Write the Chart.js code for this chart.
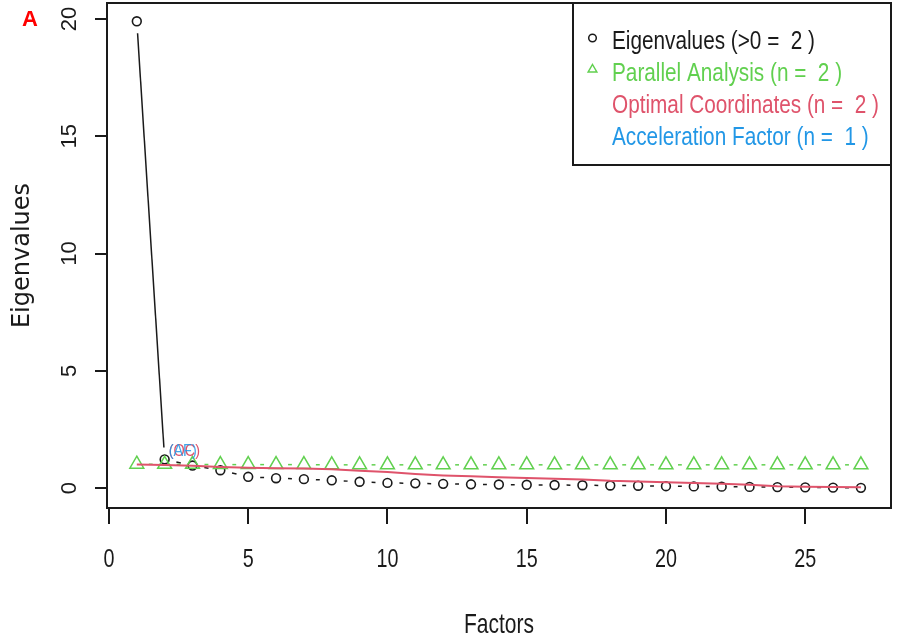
<!DOCTYPE html>
<html>
<head>
<meta charset="utf-8">
<script src="https://cdn.jsdelivr.net/npm/chart.js@4.4.1/dist/chart.umd.min.js"></script>
<style>
  html, body { margin: 0; padding: 0; background: #ffffff; }
  canvas { display: block; }
</style>
</head>
<body>
<canvas id="c" width="900" height="635"></canvas>
<script>
// ---- data ----
const factors = [1, 2, 3, 4, 5, 6, 7, 8, 9, 10, 11, 12, 13, 14, 15, 16, 17, 18, 19, 20, 21, 22, 23, 24, 25, 26, 27];
const eigenvalues = [19.9, 1.22, 0.96, 0.76, 0.48, 0.42, 0.38, 0.33, 0.27, 0.22, 0.2, 0.18, 0.16, 0.15, 0.14, 0.13, 0.12, 0.11, 0.1, 0.08, 0.07, 0.06, 0.05, 0.04, 0.03, 0.02, 0.01];
const parallelAnalysis = [1.02, 1.01, 1.01, 1.0, 1.0, 1.0, 1.0, 0.99, 0.99, 0.99, 0.99, 0.99, 0.99, 0.99, 0.99, 0.99, 0.99, 0.99, 0.99, 0.99, 0.99, 0.99, 0.99, 0.99, 0.99, 0.99, 0.99];
const optimalCoordinates = [1.0, 0.98, 0.95, 0.9, 0.87, 0.85, 0.83, 0.8, 0.74, 0.68, 0.6, 0.54, 0.5, 0.46, 0.43, 0.4, 0.37, 0.31, 0.28, 0.25, 0.22, 0.18, 0.14, 0.08, 0.06, 0.04, 0.03];
const xTickValues = [0, 5, 10, 15, 20, 25];
const yTickValues = [0, 5, 10, 15, 20];
const legendLabels = ['Eigenvalues (>0 =  2 )', 'Parallel Analysis (n =  2 )', 'Optimal Coordinates (n =  2 )', 'Acceleration Factor (n =  1 )'];
const ocLabel = '(OC)';
const afLabel = '(AF)';
const labelFactorIndex = 1;  // labels sit at factor 2
const panelLetter = 'A';
const xTitle = 'Factors';
const yTitle = 'Eigenvalues';

// ---- styling ----
const SANS = "'Liberation Sans', Arial, sans-serif";
const BLACK = '#1a1a1a';
const GREEN = '#61D04F';
const RED = '#DF536B';
const BLUE = '#2297E6';
const GAP = 12;

const toPoints = (ys) => factors.map((x, i) => ({ x: x, y: ys[i] }));

// R type="b": lines stop short of each point
function gapDash(ctx) {
  const dx = ctx.p1.x - ctx.p0.x, dy = ctx.p1.y - ctx.p0.y;
  const L = Math.hypot(dx, dy);
  const on = Math.max(L - 2 * GAP, 0);
  return [0, GAP, on, L + 1000 + ctx.p0DataIndex * 0.01];
}

// horizontally condensed text (reference uses a narrow face)
function narrowText(ctx, text, x, y, size, sx, color, align, weight) {
  ctx.save();
  ctx.translate(x, y);
  ctx.scale(sx, 1);
  ctx.font = (weight || 'normal') + ' ' + size + 'px ' + SANS;
  ctx.fillStyle = color;
  ctx.textAlign = align || 'left';
  ctx.textBaseline = 'alphabetic';
  ctx.fillText(text, 0, 0);
  ctx.restore();
}

const boxPlugin = {
  id: 'plotBox',
  beforeDatasetsDraw(chart) {
    const { ctx, chartArea: a } = chart;
    ctx.save();
    ctx.strokeStyle = BLACK;
    ctx.lineWidth = 2;
    ctx.strokeRect(a.left, a.top, a.right - a.left, a.bottom - a.top);
    ctx.restore();
  }
};

const annotPlugin = {
  id: 'annotations',
  afterDatasetsDraw(chart) {
    const { ctx } = chart;
    const xs = chart.scales.x, ys = chart.scales.y;
    const px = xs.getPixelForValue(factors[labelFactorIndex]);
    const py = ys.getPixelForValue(eigenvalues[labelFactorIndex]);
    narrowText(ctx, ocLabel, px + 4, py - 3, 17, 0.85, RED, 'left');
    ctx.save();
    ctx.globalAlpha = 0.85;
    narrowText(ctx, afLabel, px + 4, py - 3, 17, 0.85, BLUE, 'left');
    ctx.restore();
  },
  afterDraw(chart) {
    const { ctx, chartArea: a } = chart;
    const xs = chart.scales.x;
    // x tick labels and x title
    xs.ticks.forEach(t => {
      narrowText(ctx, String(t.value), xs.getPixelForValue(t.value), 567, 26, 0.76, BLACK, 'center');
    });
    narrowText(ctx, xTitle, (a.left + a.right) / 2, 633, 28, 0.75, BLACK, 'center');

    ctx.save();
    // legend box
    const bw = 318, bh = 162;
    const bx = a.right - bw, by = a.top;
    ctx.fillStyle = '#ffffff';
    ctx.fillRect(bx, by, bw, bh);
    ctx.strokeStyle = BLACK;
    ctx.lineWidth = 2;
    ctx.strokeRect(bx, by, bw, bh);
    ctx.restore();
    const baselines = [46, 78, 110, 142];
    const colors = [BLACK, GREEN, RED, BLUE];
    legendLabels.forEach((t, i) => {
      narrowText(ctx, t, bx + 39, by + baselines[i], 25, 0.83, colors[i], 'left');
    });
    // symbols
    ctx.save();
    const sx = bx + 19.5;
    ctx.lineWidth = 1.5;
    ctx.strokeStyle = BLACK;
    ctx.beginPath();
    ctx.arc(sx, by + 35, 3.8, 0, Math.PI * 2);
    ctx.stroke();
    ctx.strokeStyle = GREEN;
    const ty = by + 66.5, r = 5;
    ctx.beginPath();
    ctx.moveTo(sx, ty - r);
    ctx.lineTo(sx + r * 0.866, ty + r * 0.5);
    ctx.lineTo(sx - r * 0.866, ty + r * 0.5);
    ctx.closePath();
    ctx.stroke();
    ctx.restore();
    // panel letter
    narrowText(ctx, panelLetter, 30, 26, 22, 1, '#ff0000', 'center', 'bold');
  }
};

new Chart(document.getElementById('c'), {
  type: 'scatter',
  data: {
    datasets: [
      {
        label: 'Optimal Coordinates',
        data: toPoints(optimalCoordinates),
        showLine: true,
        borderColor: RED,
        borderWidth: 2,
        pointRadius: 0,
        pointHoverRadius: 0
      },
      {
        label: 'Parallel Analysis',
        data: toPoints(parallelAnalysis),
        showLine: true,
        borderColor: GREEN,
        borderWidth: 1.5,
        pointStyle: 'triangle',
        pointRadius: 8,
        pointBorderWidth: 1.5,
        pointBorderColor: GREEN,
        pointBackgroundColor: 'rgba(0,0,0,0)',
        segment: { borderDash: gapDash }
      },
      {
        label: 'Eigenvalues',
        data: toPoints(eigenvalues),
        showLine: true,
        borderColor: BLACK,
        borderWidth: 1.5,
        pointStyle: 'circle',
        pointRadius: 4.4,
        pointBorderWidth: 1.6,
        pointBorderColor: BLACK,
        pointBackgroundColor: 'rgba(0,0,0,0)',
        segment: { borderDash: gapDash }
      }
    ]
  },
  options: {
    responsive: false,
    animation: false,
    layout: { autoPadding: false, padding: { top: 3, right: 9, left: 0, bottom: 0 } },
    plugins: { legend: { display: false }, tooltip: { enabled: false } },
    scales: {
      x: {
        type: 'linear',
        position: 'bottom',
        min: -0.07,
        max: 28.08,
        afterBuildTicks: (s) => { s.ticks = xTickValues.map(v => ({ value: v })); },
        afterFit: (s) => { s.height = 127; s.paddingLeft = 0; s.paddingRight = 0; },
        grid: { drawOnChartArea: false, drawTicks: true, tickLength: 16, color: BLACK, lineWidth: 2 },
        border: { display: false },
        ticks: { display: false, autoSkip: false, maxRotation: 0 },
        title: { display: false }
      },
      y: {
        type: 'linear',
        position: 'left',
        min: -0.85,
        max: 20.68,
        afterBuildTicks: (s) => { s.ticks = yTickValues.map(v => ({ value: v })); },
        afterFit: (s) => { s.width = 107; s.paddingTop = 0; s.paddingBottom = 0; },
        grid: { drawOnChartArea: false, drawTicks: true, tickLength: 12, color: BLACK, lineWidth: 2 },
        border: { display: false },
        ticks: { minRotation: 90, maxRotation: 90, crossAlign: 'center', padding: 12.5, autoSkip: false, color: BLACK, font: { family: SANS, size: 22 } },
        title: { display: true, text: yTitle, color: BLACK, font: { family: "'DejaVu Sans', sans-serif", size: 24, lineHeight: 1 }, padding: { top: 10.5, bottom: 0 } }
      }
    }
  },
  plugins: [boxPlugin, annotPlugin]
});
</script>
</body>
</html>
